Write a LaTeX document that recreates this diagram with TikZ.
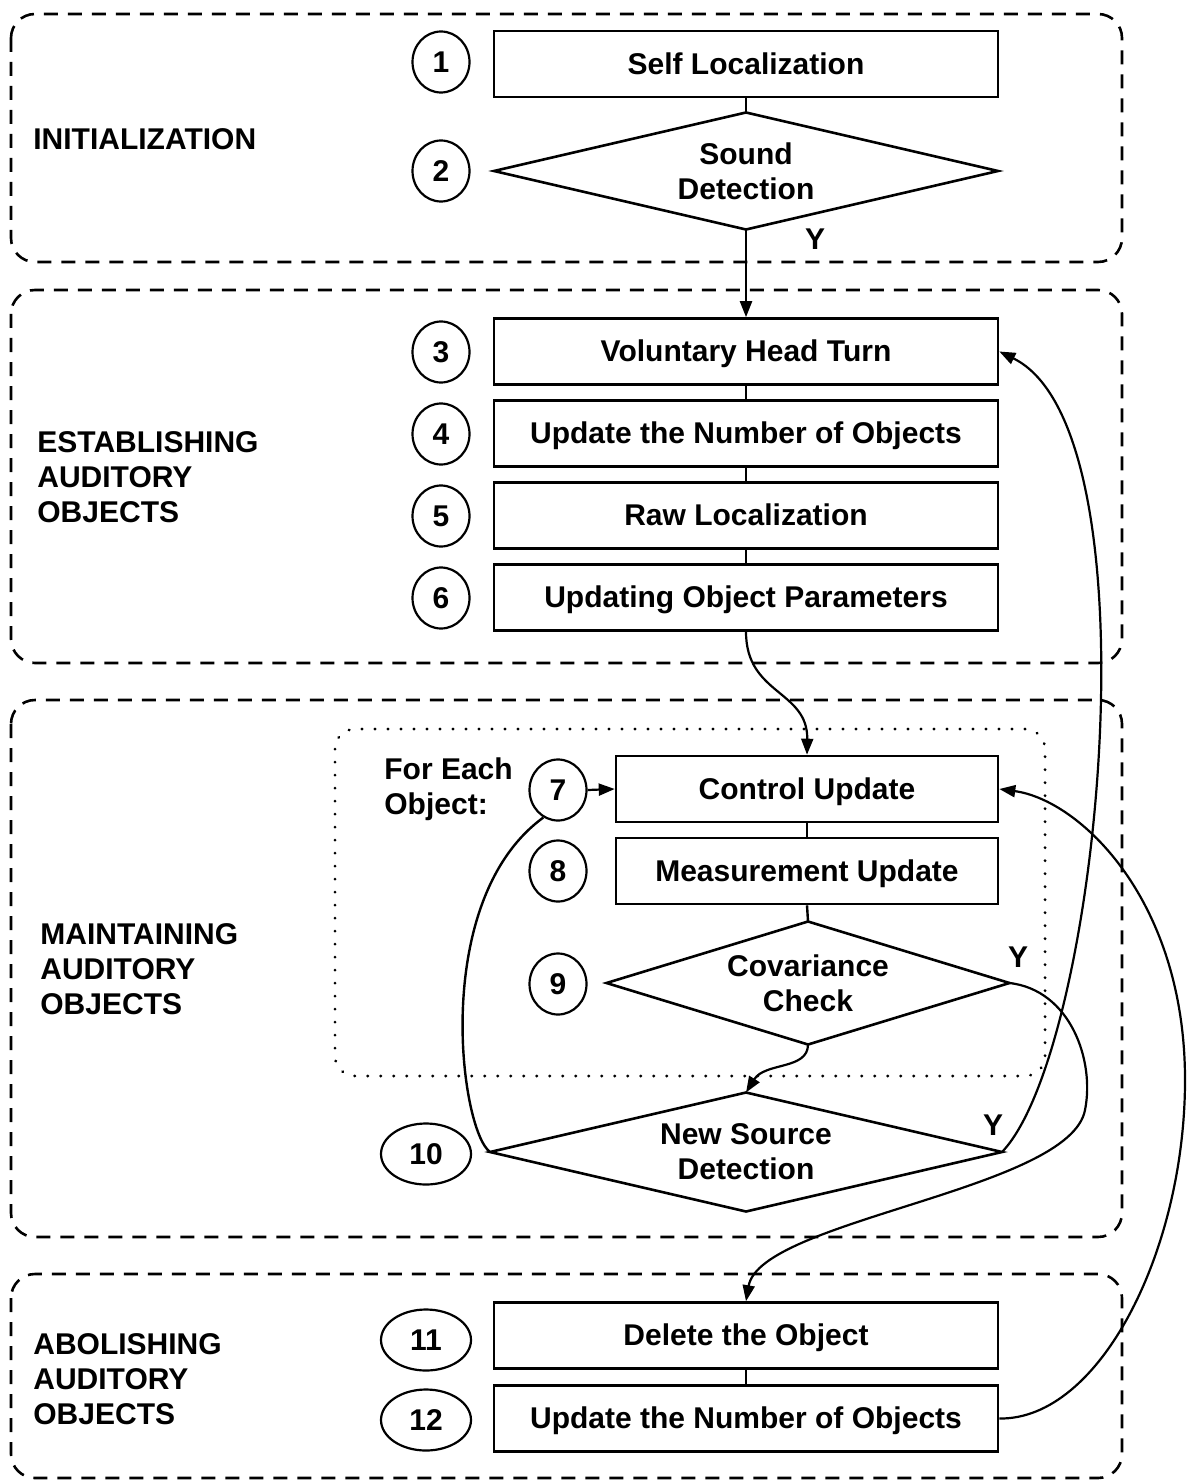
\documentclass[tikz,border=0pt]{standalone}
\usepackage{fontspec}
\setmainfont{Liberation Sans}
\usetikzlibrary{arrows.meta,shapes.geometric}
\begin{document}
\begin{tikzpicture}[x=0.5pt,y=-0.5pt,
  every node/.style={font=\fontsize{15pt}{17.5pt}\selectfont\bfseries},
  stepbox/.style={draw, line width=1.3pt, rectangle, minimum width=252pt,
    minimum height=33pt, inner sep=0pt, text height=10.6pt, text depth=0.4pt},
  shortbox/.style={stepbox, minimum width=191pt},
  decision/.style={draw, shape=diamond, line width=1.3pt, inner sep=0pt,
    outer sep=0pt, align=center},
  num/.style={draw, ellipse, line width=1.1pt, minimum width=28.5pt,
    minimum height=30.5pt, inner sep=0pt},
  widenum/.style={num, minimum width=45pt},
  phase/.style={line width=1.3pt, dash pattern=on 7pt off 5pt, rounded corners=12pt},
  loopframe/.style={line width=1.5pt, dash pattern=on 0.1pt off 6.4pt, line cap=round, rounded corners=10pt},
  phasetext/.style={align=left, anchor=west, inner sep=0pt},
  link/.style={line width=1.2pt},
  flow/.style={line width=1.1pt, -{Triangle[length=8pt,width=6pt]}}
]
\useasboundingbox (0,0) rectangle (1188,1481);

% phase frames
\draw[phase] (11,14) rectangle (1122,262);
\draw[phase] (11,290) rectangle (1122,663);
\draw[phase] (11,700) rectangle (1122,1237);
\draw[phase] (11,1274) rectangle (1122,1478);
% per-object loop frame
\draw[loopframe] (335,729) rectangle (1045,1076);

% phase titles
\node[phasetext] (tInit) at (33,139) {INITIALIZATION};
\node[phasetext] (tEst) at (37,477) {ESTABLISHING\\AUDITORY\\OBJECTS};
\node[phasetext] (tMain) at (40,969) {MAINTAINING\\AUDITORY\\OBJECTS};
\node[phasetext] (tAbol) at (33,1379) {ABOLISHING\\AUDITORY\\OBJECTS};
\node[phasetext] (tEach) at (384,789) {For Each\\Object:};

% steps
\node[stepbox] (s1) at (746,64) {Self Localization};
\node[decision, minimum width=252pt, minimum height=58.5pt, aspect=4.3] (s2) at (746,171) {Sound\\Detection};
\node[stepbox] (s3) at (746,351.5) {Voluntary Head Turn};
\node[stepbox] (s4) at (746,433.5) {Update the Number of Objects};
\node[stepbox] (s5) at (746,515.5) {Raw Localization};
\node[stepbox] (s6) at (746,597.5) {Updating Object Parameters};
\node[shortbox] (s7) at (807,789) {Control Update};
\node[shortbox] (s8) at (807,871) {Measurement Update};
\node[decision, minimum width=201.5pt, minimum height=61.5pt, aspect=3.3] (s9) at (808,983) {Covariance\\Check};
\node[decision, minimum width=256pt, minimum height=59.5pt, aspect=4.3] (s10) at (746,1152) {New Source\\Detection};
\node[stepbox] (s11) at (746,1335.5) {Delete the Object};
\node[stepbox] (s12) at (746,1418.5) {Update the Number of Objects};

% step numbers
\node[num] (n1) at (441,62) {1};
\node[num] (n2) at (441,171) {2};
\node[num] (n3) at (441,352) {3};
\node[num] (n4) at (441,434) {4};
\node[num] (n5) at (441,516) {5};
\node[num] (n6) at (441,598) {6};
\node[num] (n7) at (558,790) {7};
\node[num] (n8) at (558,871) {8};
\node[num] (n9) at (558,984) {9};
\node[widenum] (n10) at (426,1154) {10};
\node[widenum] (n11) at (426,1340) {11};
\node[widenum] (n12) at (426,1420) {12};

% yes labels
\node (y2) at (815,239) {Y};
\node (y9) at (1018,957) {Y};
\node (y10) at (993,1125) {Y};

% straight links
\draw[link] (s1.south) -- (s2.north);
\draw[link] (s3.south) -- (s4.north);
\draw[link] (s4.south) -- (s5.north);
\draw[link] (s5.south) -- (s6.north);
\draw[link] (s7.south) -- (s8.north);
\draw[link] (s8.south) -- (s9.north);
\draw[link] (s11.south) -- (s12.north);

% flow arrows
\draw[flow] (s2.south) -- (s3.north);
\draw[flow] (s6.south) .. controls (746,695) and (808,690) .. (s7.north);
\draw[flow] (n7.east) -- (s7.west);
\draw[flow] (s9.south) .. controls (808,1070) and (765,1062) .. (s10.north);
\draw[link] (s10.west) .. controls (460,1130) and (430,900) .. (n7.-118);
\draw[flow] (s10.east) .. controls (1100,1050) and (1160,430) .. (s3.east);
\draw[flow] (s9.east) .. controls (1070,990) and (1095,1060) .. (1085,1110)
  .. controls (1070,1190) and (760,1220) .. (s11.north);
\draw[flow] (s12.east) .. controls (1100,1420) and (1185,1250) .. (1185,1080)
  .. controls (1185,900) and (1080,800) .. (s7.east);
\end{tikzpicture}
\end{document}
